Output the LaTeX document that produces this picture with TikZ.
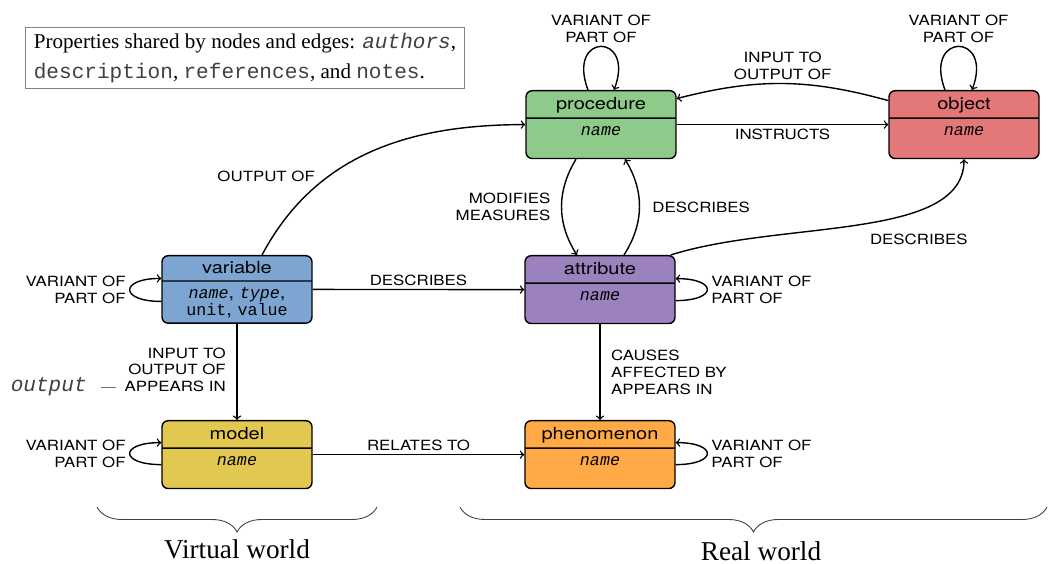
\documentclass[tikz,border=0pt]{standalone}
\usepackage{fontspec}
\setmainfont{Liberation Serif}
\setsansfont[FakeStretch=1.2]{TeX Gyre Heros}
\setmonofont{Liberation Mono}
\usetikzlibrary{shapes.multipart,decorations.pathreplacing}

\definecolor{procFill}{HTML}{8ECB8A}
\definecolor{objFill}{HTML}{E47878}
\definecolor{varFill}{HTML}{7DA5D2}
\definecolor{attrFill}{HTML}{9B82BE}
\definecolor{modelFill}{HTML}{E2C850}
\definecolor{phenFill}{HTML}{FFAA46}

\newcommand{\nm}[1]{\texttt{\itshape #1}}
% box title and name, without depth
\newcommand{\hd}[1]{\rule{0pt}{14.8pt}\raisebox{4.4pt}{#1}}
\newcommand{\bd}[1]{\raisebox{12.5pt}{\rule{0pt}{9.7pt}#1}}

\tikzset{
  entity/.style={rectangle split, rectangle split parts=2, draw, line width=0.8pt,
    rounded corners=3.5pt, text width=2.8cm, inner xsep=0.1cm, inner ysep=0pt,
    align=center, anchor=north, font=\sffamily\fontsize{9.5}{9.6}\selectfont},
  rel/.style={->, line width=0.8pt},
  rellabel/.style={font=\sffamily\fontsize{8}{9.6}\selectfont, inner sep=2pt},
  worldbrace/.style={decorate, decoration={brace, mirror, amplitude=0.5cm}, line width=0.5pt, black!75},
  worldlabel/.style={font=\fontsize{15.5}{18}\selectfont, inner sep=0pt},
}

\begin{document}
\begin{tikzpicture}[x=0.02cm, y=-0.02cm]
  \useasboundingbox (0,0) rectangle (1049,564);

  % shared properties
  \node[draw=black!50, line width=0.6pt, minimum width=8.8cm, minimum height=1.2cm, align=left,
    font=\fontsize{12}{16.8}\selectfont] (props) at (245,58)
    {Properties shared by nodes and edges: {\color{black!75}\nm{authors}},\\
     {\color{black!75}\texttt{description}}, {\color{black!75}\texttt{references}}, and {\color{black!75}\texttt{notes}}.};

  % entities
  \node[entity, fill=procFill] (proc) at (601,90) {\hd{procedure}\nodepart{two}\bd{\nm{name}}};
  \node[entity, fill=objFill] (obj) at (964,90) {\hd{object}\nodepart{two}\bd{\nm{name}}};
  \node[entity, fill=varFill] (var) at (237,255)
    {\rule{0pt}{13.6pt}\raisebox{3.8pt}{variable}\nodepart{two}\rule{0pt}{9.6pt}\nm{name}, \nm{type},\\\rule[-4pt]{0pt}{0pt}\texttt{unit}, \texttt{value}};
  \node[entity, fill=attrFill] (attr) at (600,255) {\hd{attribute}\nodepart{two}\bd{\nm{name}}};
  \node[entity, fill=modelFill] (model) at (237,420) {\hd{model}\nodepart{two}\bd{\nm{name}}};
  \node[entity, fill=phenFill] (phen) at (600,420) {\hd{phenomenon}\nodepart{two}\bd{\nm{name}}};

  % relations
  \draw[rel] ([xshift=0.5cm]var.north) to[out=62,in=180] node[rellabel, pos=0.33, left=5pt] {OUTPUT OF} (proc.west);
  \draw[rel] (proc.east) -- node[rellabel, below] {INSTRUCTS} (obj.west);
  \draw[rel] ([yshift=0.48cm]obj.west) to[bend right=15] node[rellabel, above, align=center] {INPUT TO\\OUTPUT OF} ([yshift=0.52cm]proc.east);
  \draw[rel] ([xshift=-0.5cm]proc.south) to[bend right=32] node[rellabel, left=4pt, align=right] {MODIFIES\\MEASURES} ([xshift=-0.46cm]attr.north);
  \draw[rel] ([xshift=0.48cm]attr.north) to[bend right=32] node[rellabel, right=5pt] {DESCRIBES} ([xshift=0.48cm]proc.south);
  \draw[rel] ([xshift=-0.1cm]attr.north east) .. controls +(110,-35) and +(0,82) .. node[rellabel, pos=0.69, below=11pt] {DESCRIBES} (obj.south);
  \draw[rel] (var.east) -- node[rellabel, above] {DESCRIBES} (attr.west);
  \draw[rel] (var.south) -- node[rellabel, left=4pt, align=right]
    {INPUT TO\\OUTPUT OF\\{\color{black!75}\ttfamily\itshape\fontsize{12}{9.6}\selectfont output}\hspace{8pt}{\color{black!55}\rule[2.6pt]{0.3cm}{0.4pt}}\hspace{5pt}APPEARS IN} (model.north);
  \draw[rel] (attr.south) -- node[rellabel, right=4pt, align=left] {CAUSES\\AFFECTED BY\\APPEARS IN} (phen.north);
  \draw[rel] (model.east) -- node[rellabel, above] {RELATES TO} (phen.west);

  % self loops
  \draw[rel] ([xshift=-0.26cm]proc.north) .. controls +(-22,-58) and +(22,-58) .. node[rellabel, above, align=center] {VARIANT OF\\PART OF} ([xshift=0.26cm]proc.north);
  \draw[rel] ([xshift=-0.38cm]obj.north) .. controls +(-22,-58) and +(22,-58) .. node[rellabel, above, align=center] {VARIANT OF\\PART OF} ([xshift=0.16cm]obj.north);
  \draw[rel] ([yshift=-0.24cm]var.west) .. controls +(-42,0) and +(-42,0) .. node[rellabel, left, align=right] {VARIANT OF\\PART OF} ([yshift=0.22cm]var.west);
  \draw[rel] ([yshift=-0.22cm]attr.east) .. controls +(42,0) and +(42,0) .. node[rellabel, right, align=left] {VARIANT OF\\PART OF} ([yshift=0.22cm]attr.east);
  \draw[rel] ([yshift=-0.2cm]model.west) .. controls +(-42,0) and +(-42,0) .. node[rellabel, left, align=right] {VARIANT OF\\PART OF} ([yshift=0.24cm]model.west);
  \draw[rel] ([yshift=-0.2cm]phen.east) .. controls +(42,0) and +(42,0) .. node[rellabel, right, align=left] {VARIANT OF\\PART OF} ([yshift=0.24cm]phen.east);

  % worlds
  \draw[worldbrace] (97,507) -- (377,507);
  \draw[worldbrace] (460,507) -- (1047,507);
  \node[worldlabel] (virtual) at (237,549) {Virtual world};
  \node[worldlabel] (real) at (761,551) {Real world};
\end{tikzpicture}
\end{document}
